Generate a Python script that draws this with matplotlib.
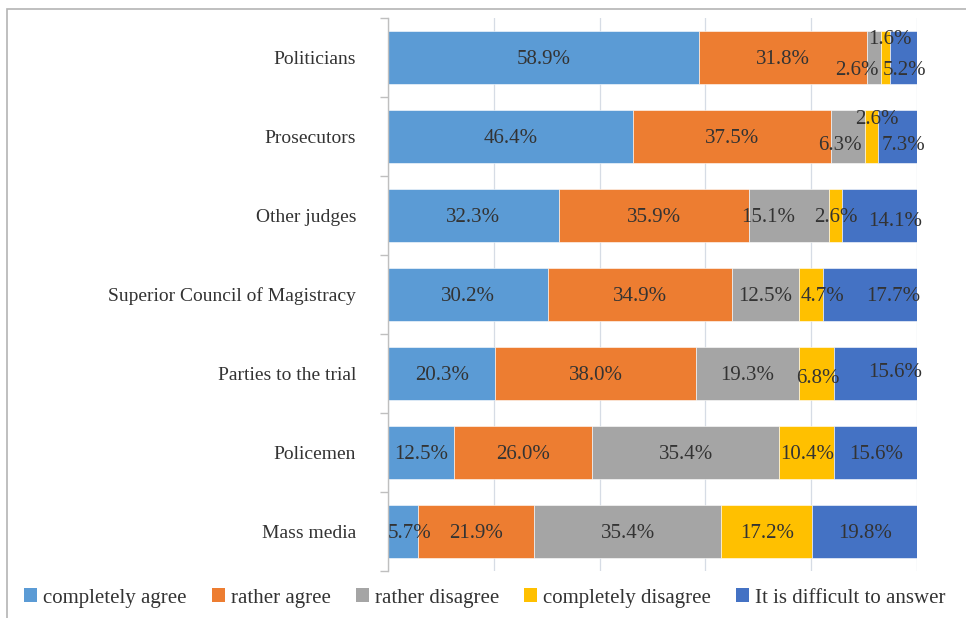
import matplotlib
matplotlib.use("Agg")
import matplotlib.pyplot as plt
import numpy as np
from matplotlib.patches import Patch, Rectangle

# ---------------------------------------------------------------------------
# Data
# ---------------------------------------------------------------------------
categories = [
    "Politicians",
    "Prosecutors",
    "Other judges",
    "Superior Council of Magistracy",
    "Parties to the trial",
    "Policemen",
    "Mass media",
]
series_names = [
    "completely agree",
    "rather agree",
    "rather disagree",
    "completely disagree",
    "It is difficult to answer",
]
completely_agree = [58.9, 46.4, 32.3, 30.2, 20.3, 12.5, 5.7]
rather_agree = [31.8, 37.5, 35.9, 34.9, 38.0, 26.0, 21.9]
rather_disagree = [2.6, 6.3, 15.1, 12.5, 19.3, 35.4, 35.4]
completely_disagree = [1.6, 2.6, 2.6, 4.7, 6.8, 10.4, 17.2]
difficult = [5.2, 7.3, 14.1, 17.7, 15.6, 15.6, 19.8]

colors = ["#5B9BD5", "#ED7D31", "#A5A5A5", "#FFC000", "#4472C4"]
TEXT = "#333333"

# nudges for crowded labels: (row, series) -> (dx in %, dy in category units)
label_nudge = {
    (0, 2): (-3.2, 0.14), (0, 3): (0.9, -0.25), (0, 4): (0.3, 0.15),
    (1, 2): (-1.6, 0.10), (1, 3): (1.0, -0.24), (1, 4): (1.0, 0.10),
    (2, 2): (-3.8, 0.0), (2, 4): (3.0, 0.05),
    (3, 3): (2.1, 0.0), (3, 4): (4.3, 0.0),
    (4, 3): (0.3, 0.04), (4, 4): (3.6, -0.03),
    (6, 0): (1.3, 0.0),
}

plt.rcParams["font.family"] = ["Liberation Serif", "DejaVu Serif"]

values = np.array([completely_agree, rather_agree, rather_disagree,
                   completely_disagree, difficult])
shares = values / values.sum(axis=0) * 100   # 100% stacked, like Excel

W, H = 966, 618
fig = plt.figure(figsize=(W / 100, H / 100), dpi=100)
ax = fig.add_axes([388 / W, 1 - 571 / H, 529 / W, 553 / H])

# outer chart frame (only top/left visible in the crop)
fig.patches.append(Rectangle((7 / W, -0.1), 1.2, 1 - 9 / H + 0.1,
                             transform=fig.transFigure, fill=False,
                             edgecolor="#B4B4B4", linewidth=1.2))

y = np.arange(len(categories))
left = np.zeros(len(categories))
for s, (name, col) in enumerate(zip(series_names, colors)):
    ax.barh(y, shares[s], left=left, height=0.66, color=col,
            edgecolor="white", linewidth=0.4, label=name, zorder=2)
    for r in range(len(categories)):
        dx, dy = label_nudge.get((r, s), (0, 0))
        ax.text(left[r] + shares[s][r] / 2 + dx, y[r] + dy + 0.02,
                f"{values[s][r]:.1f}%", ha="center", va="center",
                fontsize=15, color=TEXT, zorder=3)
    left += shares[s]

ax.set_xlim(0, 100)
ax.set_ylim(len(categories) - 0.5, -0.5)
ax.set_xticks(np.arange(0, 101, 20))
ax.tick_params(axis="x", length=0, labelbottom=False)
ax.xaxis.grid(True, color="#D6DCE5", linewidth=0.9, zorder=0)
ax.set_axisbelow(True)

ax.set_yticks(y)
ax.set_yticklabels(categories, fontsize=14, color=TEXT)
ax.set_yticks(np.arange(-0.5, len(categories) + 0.5, 1), minor=True)
ax.tick_params(axis="y", which="major", length=0, pad=23)
ax.tick_params(axis="y", which="minor", length=6, width=1, color="#BFBFBF")

for side in ("top", "right", "bottom"):
    ax.spines[side].set_visible(False)
ax.spines["left"].set_color("#BFBFBF")
ax.spines["left"].set_linewidth(1)

handles = [Patch(facecolor=c, edgecolor="none") for c in colors]
fig.legend(handles, series_names, loc="center", ncol=5,
           bbox_to_anchor=(485 / W, 1 - 598 / H), frameon=False,
           fontsize=15, handlelength=0.62, handleheight=0.62,
           handletextpad=0.3, columnspacing=1.2, labelcolor=TEXT,
           borderaxespad=0, borderpad=0)

fig.savefig("out.png", dpi=100)
